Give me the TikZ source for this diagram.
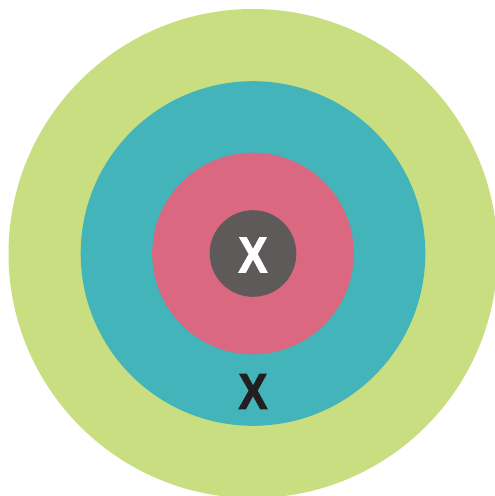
\documentclass[tikz,border=0pt]{standalone}
\usepackage{fontspec}
\newfontfamily\xfont{Liberation Sans}
\definecolor{ringgreen}{HTML}{C9DE80}
\definecolor{ringteal}{HTML}{42B4BA}
\definecolor{ringpink}{HTML}{D96880}
\definecolor{ringgray}{HTML}{5E5A59}
\definecolor{xblack}{HTML}{231F20}
\tikzset{
  ring/.style={draw=none},
  xmark/.style={inner sep=0pt, font=\xfont\bfseries\fontsize{50}{50}\selectfont, xscale=0.86}
}
\begin{document}
\begin{tikzpicture}[x=1pt,y=-1pt]
\useasboundingbox (0,0) rectangle (495,496);
\clip (0,0) rectangle (495,496);
\fill[ringgreen] (253,253.5) circle (244.5);
\fill[ringteal] (253,253.5) circle (172.3);
\fill[ringpink] (253,253.5) circle (100.8);
\fill[ringgray] (253,253.5) circle (43.3);
\node[xmark, text=white] (xin) at (253,255) {\special{pdf:literal direct 2 Tr 1.2 w 1 1 1 RG}X\special{pdf:literal direct 0 Tr}};
\node[xmark, text=xblack] (xout) at (253,391.5) {\special{pdf:literal direct 2 Tr 1.2 w 0.137 0.122 0.125 RG}X\special{pdf:literal direct 0 Tr}};
\end{tikzpicture}
\end{document}
